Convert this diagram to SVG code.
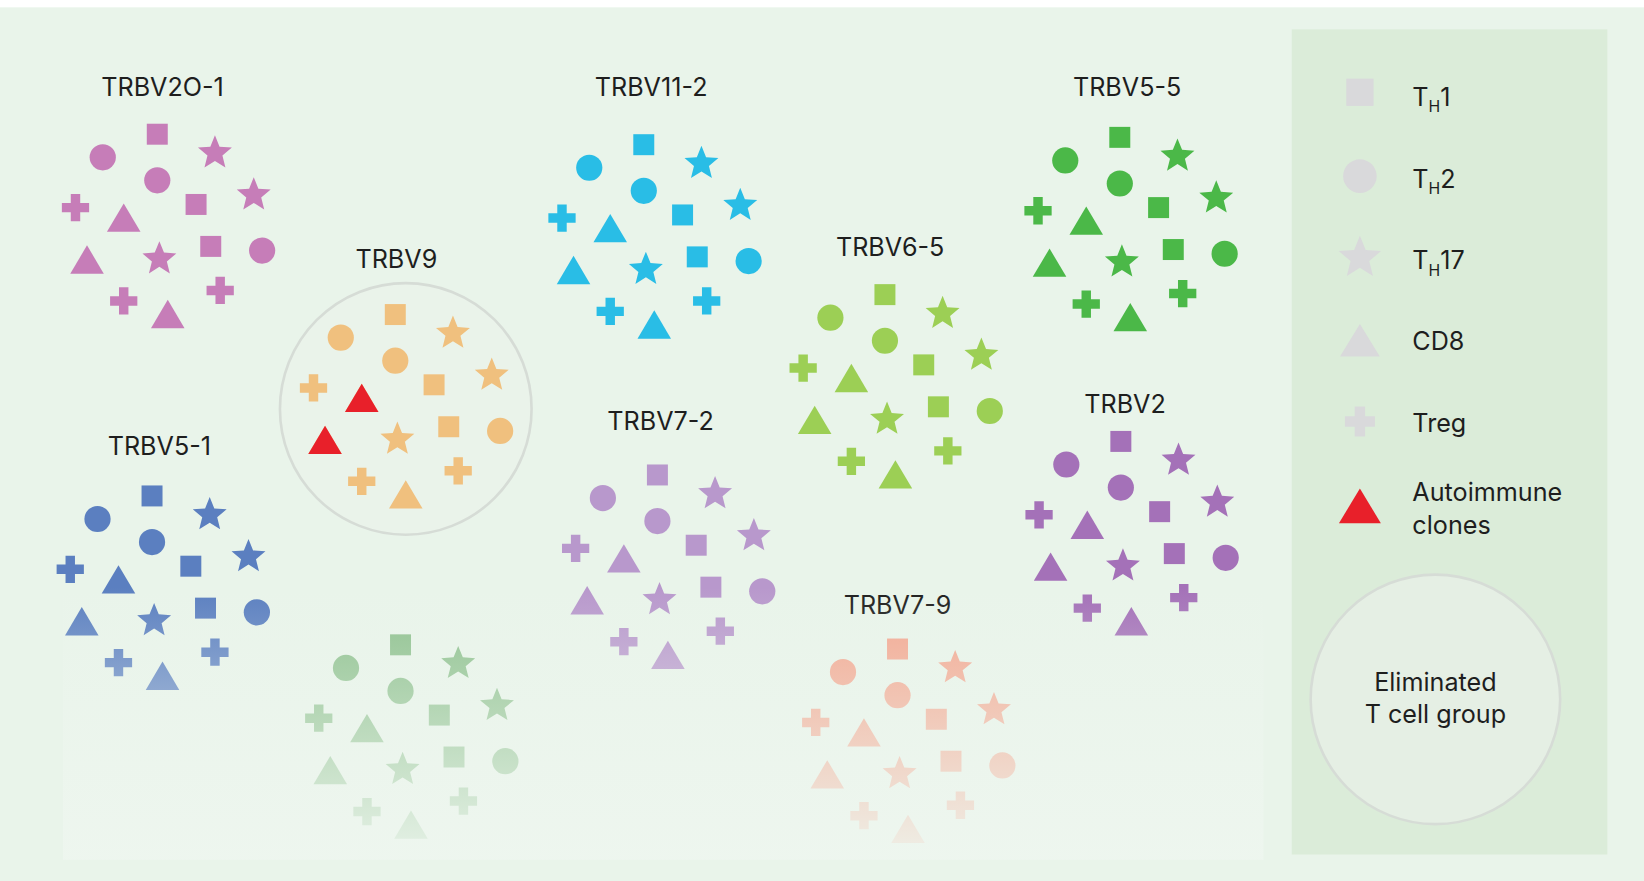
<svg xmlns="http://www.w3.org/2000/svg" xmlns:xlink="http://www.w3.org/1999/xlink" width="1644" height="881" viewBox="0 0 1644 881">
<style>
text{font-family:Inter,"Noto Sans","Liberation Sans",sans-serif;font-size:24px;fill:#1e1e1e}
.lbl{text-anchor:middle}
.lg{fill:#d9d9db}
</style>
<defs>
<rect id="sq" x="-10" y="-10" width="20" height="20"/>
<circle id="ci" r="12.5"/>
<path id="st" d="M0,-17 L4.41,-6.07 16.17,-5.25 7.13,2.32 9.99,13.75 0,7.5 -9.99,13.75 -7.13,2.32 -16.17,-5.25 -4.41,-6.07Z"/>
<path id="tr" d="M0,-14 L16,13 -16,13Z"/>
<path id="pl" d="M-4.5,-13h9v8.5h8.5v9h-8.5v8.5h-9v-8.5h-8.5v-9h8.5z"/>
<g id="cl">
<use href="#sq" x="0" y="0"/>
<use href="#ci" x="-52" y="22"/>
<use href="#st" x="55" y="18"/>
<use href="#ci" x="0" y="44"/>
<use href="#st" x="92" y="58"/>
<use href="#pl" x="-78" y="70"/>
<use href="#tr" x="-32" y="80"/>
<use href="#sq" x="37" y="67"/>
<use href="#tr" x="-67" y="120"/>
<use href="#st" x="2" y="119"/>
<use href="#sq" x="51" y="107"/>
<use href="#ci" x="100" y="111"/>
<use href="#pl" x="-32" y="159"/>
<use href="#pl" x="60" y="149"/>
<use href="#tr" x="10" y="172"/>
</g>
<linearGradient id="fade" x1="0" y1="0" x2="0" y2="1">
<stop offset="0" stop-color="#eef6ef" stop-opacity="0"/>
<stop offset="1" stop-color="#eef6ef" stop-opacity="0.92"/>
</linearGradient>
</defs>
<rect width="1644" height="881" fill="#ffffff"/>
<g transform="scale(1.0485)">
<rect x="0" y="7" width="1568" height="840" fill="#e9f4ea"/>
<rect x="1232" y="28" width="301" height="787" fill="#dbecd9"/>
<circle cx="387" cy="390" r="120" fill="#eaf3ea" stroke="#d6dcd6" stroke-width="2.5"/>
<g id="nodes">
<g id="trbv20-1"><text class="lbl" x="155" y="92">TRBV2O-1</text><use href="#cl" x="150" y="128" fill="#c67db8"/></g>
<g id="trbv11-2"><text class="lbl" x="621" y="92">TRBV11-2</text><use href="#cl" x="614" y="138" fill="#29bde6"/></g>
<g id="trbv5-5"><text class="lbl" x="1075" y="92">TRBV5-5</text><use href="#cl" x="1068" y="131" fill="#4bb848"/></g>
<g id="trbv9"><text class="lbl" x="378" y="256">TRBV9</text><use href="#cl" x="377" y="300" fill="#f0c07e"/>
<use href="#tr" x="345" y="380" fill="#e8202a"/><use href="#tr" x="310" y="420" fill="#e8202a"/></g>
<g id="trbv6-5"><text class="lbl" x="849" y="244">TRBV6-5</text><use href="#cl" x="844" y="281" fill="#9ccf55"/></g>
<g id="trbv2"><text class="lbl" x="1073" y="394">TRBV2</text><use href="#cl" x="1069" y="421" fill="#a471b8"/></g>
<g id="trbv5-1"><text class="lbl" x="152" y="434">TRBV5-1</text><use href="#cl" x="145" y="473" fill="#5b7fc0"/></g>
<g id="trbv7-2"><text class="lbl" x="630" y="410">TRBV7-2</text><use href="#cl" x="627" y="453" fill="#b898cc"/></g>
<g id="green-low"><use href="#cl" x="382" y="615" fill="#8dc08d"/></g>
<g id="trbv7-9"><text class="lbl" x="856" y="586">TRBV7-9</text><use href="#cl" x="856" y="619" fill="#f3a68f"/></g>
</g>
<rect x="60" y="560" width="1145" height="260" fill="url(#fade)"/>
<g id="legend">
<rect class="lg" x="1284" y="75" width="26" height="26"/>
<circle class="lg" cx="1297" cy="168" r="16"/>
<use href="#st" x="1297" y="246" class="lg" transform="translate(1297 246) scale(1.25) translate(-1297 -246)"/>
<path class="lg" d="M1297,309 L1316,340 1278,340Z"/>
<use href="#pl" x="1297" y="402" class="lg" transform="translate(1297 402) scale(1.1) translate(-1297 -402)"/>
<path d="M1297,466 L1317,499 1277,499Z" fill="#e8202a"/>
<text x="1347" y="101">T<tspan font-size="15" dy="6">H</tspan><tspan dy="-6">1</tspan></text>
<text x="1347" y="179">T<tspan font-size="15" dy="6">H</tspan><tspan dy="-6">2</tspan></text>
<text x="1347" y="257">T<tspan font-size="15" dy="6">H</tspan><tspan dy="-6">17</tspan></text>
<text x="1347" y="334">CD8</text>
<text x="1347" y="412">Treg</text>
<text x="1347" y="478">Autoimmune</text>
<text x="1347" y="509">clones</text>
<circle cx="1369" cy="667" r="119" fill="#e5efe4" stroke="#d6dcd6" stroke-width="2.5"/>
<text class="lbl" x="1369" y="659">Eliminated</text>
<text class="lbl" x="1369" y="690">T cell group</text>
</g>
<g id="connectors"/>
</g>
</svg>
